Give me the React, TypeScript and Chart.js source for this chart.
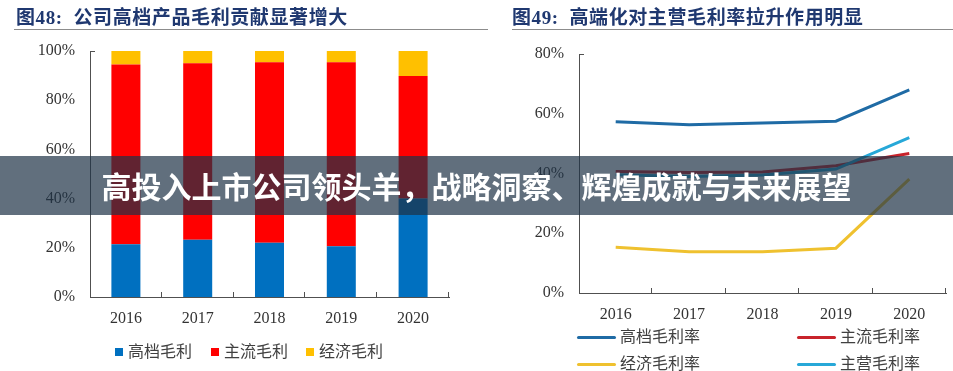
import React, { useEffect, useRef } from "react";
import { Chart, registerables } from "chart.js";

Chart.register(...registerables);

// ---------- data ----------
const years = ["2016", "2017", "2018", "2019", "2020"];

const barSeriesNames = ["高档毛利", "主流毛利", "经济毛利"];
const highShare = [21.4, 23.3, 22.1, 20.6, 40.0];
const mainShare = [73.1, 71.7, 73.3, 74.8, 49.8];
const econShare = [5.5, 5.0, 4.6, 4.6, 10.2];
const barColors = ["#0070C0", "#FF0000", "#FFC000"];

const lineSeriesNames = ["高档毛利率", "主流毛利率", "经济毛利率", "主营毛利率"];
const highMargin = [57.3, 56.3, 56.9, 57.5, 68.0];
const mainstreamMargin = [40.7, 40.3, 40.5, 42.6, 46.7];
const econMargin = [15.3, 13.8, 13.8, 15.0, 38.1];
const overallMargin = [39.6, 39.0, 39.5, 41.5, 52.0];
const lineColors = ["#1F6BA5", "#C8232B", "#EFC12F", "#27A8D8"];

const leftTitle = "图48:  公司高档产品毛利贡献显著增大";
const rightTitle = "图49:  高端化对主营毛利率拉升作用明显";
const bannerText = "高投入上市公司领头羊，战略洞察、辉煌成就与未来展望";

const AXIS = "#505050";
const TICK_TEXT = "#333333";
const SERIF = "'Liberation Serif', 'Times New Roman', serif";
const MIXED = "'Liberation Serif', 'Noto Sans CJK SC', serif";

const axisTicks = {
  id: "axisTicks",
  afterDraw(chart: any) {
    const { ctx, chartArea, scales } = chart;
    const x = scales.x;
    const n = x.ticks.length;
    ctx.save();
    ctx.strokeStyle = AXIS;
    ctx.lineWidth = 1;
    ctx.beginPath();
    for (let i = 1; i <= n; i++) {
      const px = Math.round(x.left + (x.width * i) / n) - 0.5;
      ctx.moveTo(px, chartArea.bottom);
      ctx.lineTo(px, chartArea.bottom - 5);
    }
    const ty = Math.round(chartArea.top) + 0.5;
    ctx.moveTo(chartArea.left, ty);
    ctx.lineTo(chartArea.left + 5, ty);
    ctx.stroke();
    ctx.restore();
  },
};

function yScale(max: number, width: number) {
  return {
    min: 0,
    max,
    stacked: true,
    grid: { display: false, drawTicks: false },
    border: { display: true, color: AXIS, width: 1 },
    ticks: {
      stepSize: 20,
      padding: 15,
      color: TICK_TEXT,
      font: { family: SERIF, size: 16 },
      callback: (v: any) => v + "%",
    },
    afterFit: (s: any) => {
      s.width = width;
      s.paddingTop = 0;
      s.paddingBottom = 0;
    },
  };
}

function xScale(height: number, offset: boolean, pad: number) {
  return {
    offset,
    stacked: true,
    grid: { display: false, drawTicks: false },
    border: { display: true, color: AXIS, width: 1 },
    ticks: {
      padding: pad,
      color: TICK_TEXT,
      font: { family: SERIF, size: 16 },
      maxRotation: 0,
    },
    afterFit: (s: any) => {
      s.height = height;
      s.paddingLeft = 0;
      s.paddingRight = 0;
    },
  };
}

function BarChart() {
  const ref = useRef<HTMLCanvasElement>(null);
  useEffect(() => {
    const chart = new Chart(ref.current!, {
      type: "bar",
      data: {
        labels: years,
        datasets: [highShare, mainShare, econShare].map((d, i) => ({
          label: barSeriesNames[i],
          data: d,
          backgroundColor: barColors[i],
          borderWidth: 0,
          barPercentage: 0.404,
          categoryPercentage: 1,
        })),
      },
      options: {
        responsive: false,
        animation: false,
        layout: { padding: { top: 51, left: 0, right: 31, bottom: 0 } },
        plugins: { legend: { display: false }, tooltip: { enabled: false } },
        scales: { x: xScale(43, true, 12) as any, y: yScale(100, 90) as any },
      },
      plugins: [axisTicks],
    });
    return () => chart.destroy();
  }, []);
  return (
    <canvas
      ref={ref}
      width={480}
      height={340}
      style={{ position: "absolute", left: 0, top: 0, width: 480, height: 340 }}
    />
  );
}

function LineChart() {
  const ref = useRef<HTMLCanvasElement>(null);
  useEffect(() => {
    const series = [highMargin, mainstreamMargin, econMargin, overallMargin];
    const chart = new Chart(ref.current!, {
      type: "line",
      data: {
        labels: years,
        datasets: series.map((d, i) => ({
          label: lineSeriesNames[i],
          data: d,
          borderColor: lineColors[i],
          backgroundColor: lineColors[i],
          borderWidth: 3,
          pointRadius: 0,
          tension: 0,
          fill: false,
          order: 3 - i,
        })),
      },
      options: {
        responsive: false,
        animation: false,
        layout: { padding: { top: 54, left: 0, right: 7, bottom: 0 } },
        plugins: { legend: { display: false }, tooltip: { enabled: false } },
        scales: {
          x: { ...(xScale(47, true, 12) as any), stacked: false },
          y: { ...(yScale(80, 99) as any), stacked: false },
        },
      },
      plugins: [axisTicks],
    });
    return () => chart.destroy();
  }, []);
  return (
    <canvas
      ref={ref}
      width={473}
      height={340}
      style={{ position: "absolute", left: 480, top: 0, width: 473, height: 340 }}
    />
  );
}

const titleStyle: React.CSSProperties = {
  position: "absolute",
  top: 5,
  fontFamily: MIXED,
  fontWeight: "bold",
  fontSize: 19,
  letterSpacing: "0.6px",
  color: "#1F3870",
  whiteSpace: "pre",
  lineHeight: "25px",
};

const legendText: React.CSSProperties = {
  position: "absolute",
  fontFamily: MIXED,
  fontSize: 16,
  color: "#404040",
  lineHeight: "20px",
  whiteSpace: "pre",
};

export default function App() {
  const barLegendX = [115, 211, 306];
  const lineLegendPos = [
    [577, 337],
    [797, 337],
    [577, 364],
    [797, 364],
  ];
  return (
    <div
      style={{
        position: "absolute",
        left: 0,
        top: 0,
        width: 953,
        height: 371,
        background: "#ffffff",
        overflow: "hidden",
      }}
    >
      <BarChart />
      <LineChart />
      <div style={{ ...titleStyle, left: 16 }}>{leftTitle}</div>
      <div style={{ ...titleStyle, left: 512 }}>{rightTitle}</div>
      <div style={{ position: "absolute", left: 14, top: 29, width: 474, height: 1, background: "#8c8c8c" }} />
      <div style={{ position: "absolute", left: 512, top: 29, width: 441, height: 1, background: "#8c8c8c" }} />

      {barSeriesNames.map((name, i) => (
        <React.Fragment key={name}>
          <div
            style={{
              position: "absolute",
              left: barLegendX[i],
              top: 348,
              width: 8,
              height: 8,
              background: barColors[i],
            }}
          />
          <div style={{ ...legendText, left: barLegendX[i] + 13, top: 342 }}>{name}</div>
        </React.Fragment>
      ))}

      {lineSeriesNames.map((name, i) => (
        <React.Fragment key={name}>
          <div
            style={{
              position: "absolute",
              left: lineLegendPos[i][0],
              top: lineLegendPos[i][1] - 1.5,
              width: 39,
              height: 3,
              borderRadius: 2,
              background: lineColors[i],
            }}
          />
          <div style={{ ...legendText, left: lineLegendPos[i][0] + 43, top: lineLegendPos[i][1] - 10 }}>
            {name}
          </div>
        </React.Fragment>
      ))}

      <div
        style={{
          position: "absolute",
          left: 0,
          top: 156,
          width: 953,
          height: 59,
          background: "rgba(30,50,70,0.7)",
          color: "#ffffff",
          fontFamily: "'Noto Sans CJK SC', sans-serif",
          fontWeight: "bold",
          fontSize: 30,
          lineHeight: "59px",
          textAlign: "center",
          whiteSpace: "nowrap",
        }}
      >
        {bannerText}
      </div>
    </div>
  );
}
